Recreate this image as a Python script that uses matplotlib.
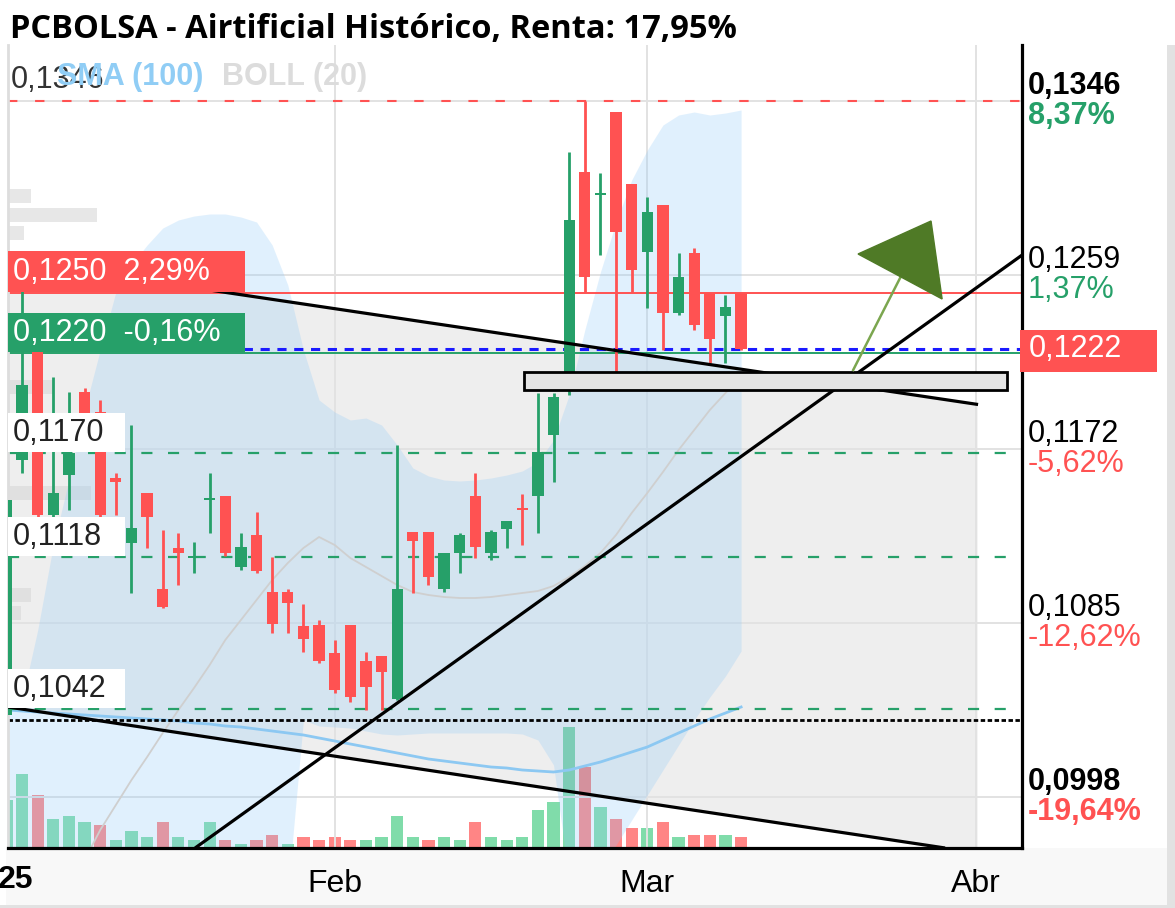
import numpy as np
import matplotlib.pyplot as plt
from matplotlib import transforms
from matplotlib.patches import Rectangle, Polygon

# ---- daily candles, Jan 3 2025 .. Mar 11 2025 (index = trading day) ----
opens = [0.10390, 0.11665, 0.12215, 0.11390, 0.11590, 0.12005, 0.11905, 0.11575,
         0.11250, 0.11500, 0.11020, 0.11225, 0.11175, 0.11465, 0.11485, 0.11130,
         0.11290, 0.11005, 0.11005, 0.10835, 0.10840, 0.10700, 0.10840, 0.10660,
         0.10685, 0.10470, 0.11305, 0.11305, 0.11020, 0.11200, 0.11485, 0.11200,
         0.11320, 0.11425, 0.11485, 0.11790, 0.12015, 0.13105, 0.12990, 0.13405,
         0.13045, 0.12705, 0.12940, 0.12400, 0.12700, 0.12500, 0.12385, 0.12500]
highs = [0.11490, 0.12515, 0.12240, 0.12080, 0.12005, 0.12025, 0.11965, 0.11600,
         0.11840, 0.11500, 0.11315, 0.11300, 0.11255, 0.11600, 0.11485, 0.11300,
         0.11405, 0.11180, 0.11020, 0.10945, 0.10865, 0.10765, 0.10840, 0.10705,
         0.10685, 0.11740, 0.11305, 0.11305, 0.11200, 0.11300, 0.11600, 0.11315,
         0.11360, 0.11495, 0.12000, 0.12000, 0.13205, 0.13460, 0.13100, 0.13405,
         0.13045, 0.12980, 0.12940, 0.12700, 0.12725, 0.12500, 0.12490, 0.12500]
lows = [0.09980, 0.11600, 0.11380, 0.11380, 0.11415, 0.11740, 0.11380, 0.11390,
        0.11000, 0.11225, 0.10925, 0.11040, 0.11100, 0.11300, 0.11185, 0.11115,
        0.11100, 0.10800, 0.10800, 0.10705, 0.10650, 0.10500, 0.10455, 0.10415,
        0.10415, 0.10465, 0.11000, 0.11040, 0.11005, 0.11100, 0.11175, 0.11165,
        0.11225, 0.11240, 0.11300, 0.11555, 0.11990, 0.12505, 0.12690, 0.12090,
        0.12505, 0.12425, 0.12215, 0.12390, 0.12315, 0.12150, 0.12150, 0.12215]
closes = [0.11465, 0.12040, 0.11390, 0.11500, 0.11700, 0.11765, 0.11390, 0.11555,
          0.11325, 0.11380, 0.10930, 0.11200, 0.11185, 0.11470, 0.11200, 0.11230,
          0.11110, 0.10845, 0.10950, 0.10770, 0.10660, 0.10515, 0.10480, 0.10530,
          0.10605, 0.11020, 0.11260, 0.11080, 0.11200, 0.11290, 0.11230, 0.11305,
          0.11360, 0.11415, 0.11705, 0.11980, 0.12865, 0.12580, 0.13000, 0.12805,
          0.12615, 0.12905, 0.12400, 0.12580, 0.12340, 0.12270, 0.12430, 0.12220]

volume = [48, 74, 53, 29, 32, 26, 23, 8, 17, 11, 26, 11, 8, 26, 8, 4,
          8, 13, 4, 11, 8, 11, 8, 8, 11, 32, 11, 8, 11, 8, 26, 11,
          8, 11, 38, 46, 121, 81, 41, 29, 20, 20, 26, 11, 13, 13, 13, 11]
volume_up = [1, 1, 0, 1, 1, 1, 0, 1, 1, 1, 0, 1, 1, 1, 0, 1,
             0, 0, 1, 0, 0, 0, 0, 1, 1, 1, 1, 0, 1, 1, 0, 1,
             1, 1, 1, 1, 1, 0, 1, 0, 0, 1, 0, 1, 0, 0, 1, 0]

boll_upper = [0.10390, 0.10465, 0.10815, 0.11240, 0.11565, 0.11915, 0.12215, 0.12505,
              0.12640, 0.12740, 0.12825, 0.12865, 0.12885, 0.12895, 0.12895, 0.12880,
              0.12855, 0.12740, 0.12540, 0.12215, 0.11965, 0.11905, 0.11865, 0.11875,
              0.11840, 0.11740, 0.11625, 0.11585, 0.11565, 0.11560, 0.11565, 0.11575,
              0.11590, 0.11610, 0.11655, 0.11765, 0.11990, 0.12315, 0.12605, 0.12855,
              0.13065, 0.13215, 0.13340, 0.13390, 0.13405, 0.13390, 0.13400, 0.13415]
boll_lower = [0.0950, 0.0950, 0.0950, 0.0950, 0.0950, 0.0950, 0.0950, 0.0950,
              0.0950, 0.0950, 0.0950, 0.0950, 0.0950, 0.0950, 0.0950, 0.0950,
              0.0950, 0.0950, 0.0950, 0.10365, 0.10335, 0.10330, 0.10325, 0.10310,
              0.10295, 0.10290, 0.10295, 0.10300, 0.10300, 0.10300, 0.10300, 0.10300,
              0.10300, 0.10295, 0.10265, 0.10140, 0.09565, 0.09440, 0.09615, 0.09740,
              0.09865, 0.09990, 0.10115, 0.10240, 0.10365, 0.10480, 0.10585, 0.10710]
boll_mid_start = 5
boll_mid = [0.09665, 0.09815, 0.09940, 0.10065, 0.10180, 0.10300, 0.10415, 0.10525,
            0.10640, 0.10765, 0.10865, 0.10965, 0.11065, 0.11150, 0.11225, 0.11280,
            0.11240, 0.11175, 0.11130, 0.11085, 0.11040, 0.11005, 0.10990, 0.10980,
            0.10975, 0.10975, 0.10980, 0.10990, 0.11000, 0.11010, 0.11035, 0.11080,
            0.11135, 0.11200, 0.11290, 0.11400, 0.11500, 0.11605, 0.11715, 0.11815,
            0.11915, 0.12000, 0.12075]
sma100 = [0.10415, 0.10410, 0.10405, 0.10400, 0.10395, 0.10390, 0.10385, 0.10380,
          0.10375, 0.10370, 0.10365, 0.10360, 0.10350, 0.10345, 0.10335, 0.10330,
          0.10320, 0.10310, 0.10300, 0.10290, 0.10275, 0.10260, 0.10245, 0.10230,
          0.10215, 0.10200, 0.10185, 0.10170, 0.10160, 0.10150, 0.10140, 0.10130,
          0.10125, 0.10115, 0.10110, 0.10105, 0.10115, 0.10135, 0.10155, 0.10180,
          0.10205, 0.10230, 0.10265, 0.10300, 0.10335, 0.10370, 0.10400, 0.10430]

# left volume profile (price level, length in trading days)
vp_price = [0.12983, 0.12890, 0.12800, 0.12030, 0.11500, 0.10990, 0.10900]
vp_len = [1.5, 5.7, 1.0, 2.9, 5.3, 1.5, 0.8]

month_pos = [21, 41, 62]
month_lbl = ['Feb', 'Mar', 'Abr']

level_ticks = [0.1346, 0.1259, 0.1172, 0.1085, 0.0998]
level_txt = ['0,1346', '0,1259', '0,1172', '0,1085', '0,0998']
level_pct = ['8,37%', '1,37%', '-5,62%', '-12,62%', '-19,64%']
level_bold = [True, False, False, False, True]

last_price = 0.1222
res_level = 0.1250
sup_level = 0.1220
green_levels = [0.1170, 0.1118, 0.1042]
green_txt = ['0,1170', '0,1118', '0,1042']
dotted_level = 0.10365

# drawings: trend lines (day index, price), zone and arrow
chan_top = ([0.1, 62.16], [0.12665, 0.119425])
chan_bot = ([0.1, 60.05], [0.10430, 0.09725])
rise_line = ([12.07, 64.98], [0.09725, 0.12690])
zone_x = [33.12, 64.02]
zone_p = [0.12015, 0.12105]
arrow_shaft = ([54.17, 57.17], [0.12115, 0.12575])
arrow_head = [(54.48, 0.12695), (59.15, 0.12860), (59.86, 0.12470)]

GREEN = '#26a069'
RED = '#ff5252'

W, H = 1175, 908
fig = plt.figure(figsize=(W / 100, H / 100), dpi=100)
fig.patch.set_facecolor('white')


def fx(px):
    return px / W


def fy(py):
    return 1 - py / H


ax = fig.add_axes([fx(8), fy(848), fx(1022) - fx(8), fy(45) - fy(848)])
vol_ax = ax.twinx()
ax.set_zorder(vol_ax.get_zorder() + 1)
ax.patch.set_visible(False)

n = len(opens)
idx = np.arange(n)
o = np.array(opens)
c = np.array(closes)

# volume bars (own scale, bottom of the chart)
vcols = ['#80dcaa' if u else '#ff8585' for u in volume_up]
vol_ax.bar(idx, volume, width=0.78, color=vcols, linewidth=0)
vol_ax.set_ylim(0, max(volume) * 6.64)
vol_ax.set_yticks([])
for s in vol_ax.spines.values():
    s.set_visible(False)

ax.set_xlim(0.1, 64.97)
ax.set_ylim(0.09725, 0.13740)

# gray channel between the two falling lines
xs = np.linspace(0, 62.1, 200)
k1 = (chan_top[1][1] - chan_top[1][0]) / (chan_top[0][1] - chan_top[0][0])
k2 = (chan_bot[1][1] - chan_bot[1][0]) / (chan_bot[0][1] - chan_bot[0][0])
top = chan_top[1][0] + k1 * (xs - chan_top[0][0])
bot = chan_bot[1][0] + k2 * (xs - chan_bot[0][0])
ax.fill_between(xs, bot, top, color='black', alpha=0.065, lw=0, zorder=0.2)

# volume profile
ax.barh(vp_price, vp_len, height=0.0007, left=0.1, color='#d8d8d8', alpha=0.6, lw=0, zorder=0.3)

# bollinger / sma
ax.fill_between(idx, boll_lower, boll_upper, color='#90caf9', alpha=0.27, lw=0, zorder=1)
ax.plot(np.arange(boll_mid_start, n), boll_mid, color='#cfcfcf', lw=1.3, zorder=1.2)
ax.plot(idx, sma100, color='#8cc8f2', lw=2, zorder=1.3)

# horizontal levels
ax.axhline(level_ticks[0], color=RED, lw=1.5, ls=(0, (4.5, 8.5)), zorder=2)
ax.axhline(res_level, color=RED, lw=1.4, zorder=2)
ax.axhline(sup_level, color=GREEN, lw=1.4, zorder=2)
ax.axhline(last_price, color='#1a1aff', lw=2.2, ls=(0, (3, 2.5)), zorder=2.1)
for lv in green_levels:
    ax.axhline(lv, color=GREEN, lw=1.6, ls=(0, (5, 7)), zorder=2)
ax.axhline(dotted_level, color='black', lw=2, ls=(0, (1.6, 0.9)), zorder=2)

# candles
up = c >= o
ccols = np.where(up, GREEN, RED)
ax.vlines(idx, lows, highs, colors=ccols, lw=2, zorder=5)
body = np.maximum(np.abs(c - o), 0.0001)
ax.bar(idx, body, bottom=np.minimum(o, c), width=0.72, color=ccols, lw=0, zorder=5)

# trend lines, zone, arrow
for xl, yl in (chan_top, chan_bot, rise_line):
    ax.plot(xl, yl, color='black', lw=2.3, zorder=6, solid_capstyle='butt')
ax.add_patch(Rectangle((zone_x[0], zone_p[0]), zone_x[1] - zone_x[0], zone_p[1] - zone_p[0],
                       fc='#e4e4e4', ec='black', lw=2, zorder=6.5))
ax.plot(*arrow_shaft, color='#7ba64f', lw=1.8, zorder=7)
ax.add_patch(Polygon(arrow_head, closed=True, fc='#4f7a26', ec='#4f7a26', lw=1, zorder=7))

# axes styling
ax.set_yticks(level_ticks)
ax.set_xticks(month_pos, month_lbl)
ax.grid(True, color='#e2e2e2', lw=1.4)
ax.set_axisbelow(True)
ax.tick_params(axis='y', length=0, labelleft=False, labelright=False)
ax.tick_params(axis='x', length=0, pad=15, labelsize=23)
for lab in ax.get_xticklabels():
    lab.set_family('Liberation Sans')
ax.spines['top'].set_visible(False)
ax.spines['left'].set_color('#dddddd')
ax.spines['left'].set_linewidth(2)
ax.spines['right'].set_linewidth(2.3)
ax.spines['bottom'].set_linewidth(2.3)

# left labels inside the plot
trans_l = transforms.blended_transform_factory(ax.transAxes, ax.transData)
lab_kw = dict(family='Liberation Sans', fontsize=22, va='center', ha='left')


def left_label(p, txt, fc, tc, w_px, h=0.00205):
    ax.add_patch(Rectangle((0, p + 0.00003), w_px / 1014, h, transform=trans_l,
                           fc=fc, ec='none', zorder=8, clip_on=False))
    ax.text(5 / 1014, p + 0.00003 + h / 2, txt, transform=trans_l, color=tc, zorder=9, **lab_kw)


left_label(res_level, '0,1250  2,29%', RED, 'white', 237)
left_label(sup_level, '0,1220  -0,16%', GREEN, 'white', 237, h=0.00195)
for lv, t in zip(green_levels, green_txt):
    left_label(lv, t, 'white', '#222222', 117, h=0.00195)
ax.text(3 / 1014, level_ticks[0] + 0.00105, '0,1346', transform=trans_l,
        color='#333333', zorder=9, **lab_kw)

# right price scale
trans_r = transforms.blended_transform_factory(fig.transFigure, ax.transData)
t_up = transforms.offset_copy(trans_r, fig=fig, y=15, units='dots')
t_dn = transforms.offset_copy(trans_r, fig=fig, y=-15, units='dots')
for lv, t, pc, b in zip(level_ticks, level_txt, level_pct, level_bold):
    w = 'bold' if b else 'normal'
    pcol = GREEN if pc[0] != '-' else RED
    fig.text(fx(1028), lv, t, transform=t_up, family='Liberation Sans', fontsize=22,
             weight=w, color='black', va='center', ha='left')
    fig.text(fx(1028), lv, pc, transform=t_dn, family='Liberation Sans', fontsize=22,
             weight=w, color=pcol, va='center', ha='left')
fig.patches.append(Rectangle((fx(1020), fy(372)), fx(137), 42 / H, transform=fig.transFigure,
                             fc=RED, ec='none', zorder=3))
fig.text(fx(1029), last_price, '0,1222', transform=trans_r, family='Liberation Sans',
         fontsize=22, color='white', va='center', ha='left', zorder=4)

# frame around the chart area
fig.patches.append(Rectangle((fx(6), 0), fx(1162), fy(848), transform=fig.transFigure,
                             fc='#f8f8f8', ec='none', zorder=-1))
fig.patches.append(Rectangle((fx(1167), 0), fx(8), fy(45), transform=fig.transFigure,
                             fc='#e2e2e2', ec='none', zorder=-1))
fig.patches.append(Rectangle((0, 0), 1, 3 / H, transform=fig.transFigure,
                             fc='#e2e2e2', ec='none', zorder=-1))
fig.text(fx(16), fy(880), '25', family='Liberation Sans', fontsize=23, weight='bold',
         ha='center', va='center')

# title and legend
fig.text(fx(10), fy(30), 'PCBOLSA - Airtificial Histórico, Renta: 17,95%', family='Open Sans',
         fontsize=23.5, weight='bold', ha='left', va='center')
fig.text(fx(57), fy(77), 'SMA (100)', family='Liberation Sans', fontsize=22, weight='bold',
         color='#90cdf5', ha='left', va='center', zorder=10)
fig.text(fx(222), fy(77), 'BOLL (20)', family='Liberation Sans', fontsize=22, weight='bold',
         color='#dcdcdc', ha='left', va='center', zorder=10)

fig.savefig('out.png', dpi=100)
